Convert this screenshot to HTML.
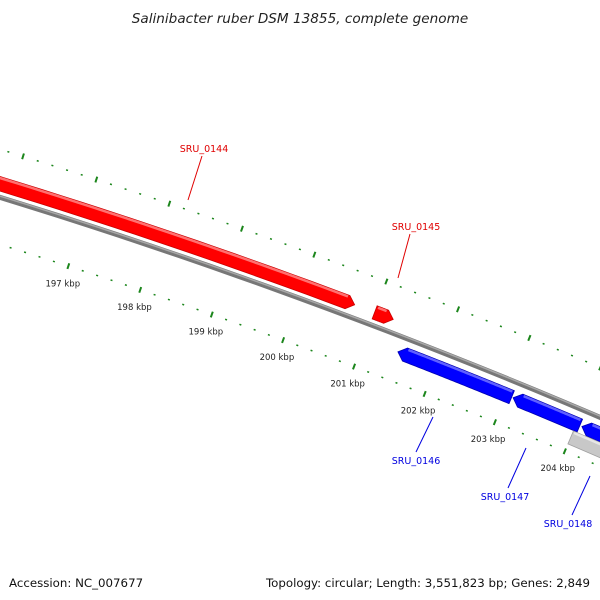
<!DOCTYPE html>
<html><head><meta charset="utf-8"><style>
html,body{margin:0;padding:0;background:#fff;}
svg{display:block;font-family:"DejaVu Sans","Liberation Sans",sans-serif;}
</style></head><body>
<svg id="map" width="600" height="600" viewBox="0 0 600 600" xmlns="http://www.w3.org/2000/svg">
<text x="300" y="23" text-anchor="middle" font-size="13.6" font-style="italic" fill="#222">Salinibacter ruber DSM 13855, complete genome</text>
<g id="ticks"></g>
<g id="feats"></g>
<g id="labels"></g>
<text x="9" y="587" font-size="11.8" fill="#111">Accession: NC_007677</text>
<text x="590" y="587" text-anchor="end" font-size="11.8" fill="#111">Topology: circular; Length: 3,551,823 bp; Genes: 2,849</text>
</svg>
<script>
// data (kbp)
const geneNames = ["SRU_0144","SRU_0145","SRU_0146","SRU_0147","SRU_0148","SRU_0149"];
const geneStarts = [190.0, 201.0, 201.47, 203.1, 204.08, 204.0];
const geneEnds = [200.72, 201.26, 203.08, 204.05, 206.5, 207.0];
const geneStrand = [1, 1, -1, -1, -1, 0];
const tickStartKbp = 195;
const tickEndKbp = 206;
const majorTickLabels = ["197 kbp","198 kbp","199 kbp","200 kbp","201 kbp","202 kbp","203 kbp","204 kbp"];
const majorTickValues = [197,198,199,200,201,202,203,204];

const NS="http://www.w3.org/2000/svg";
const CX=-1778, CY=5975, R=6045, K=0.01262, PHI0=-1.2580;
function ang(kbp){return PHI0+(kbp-197)*K;}
function pt(kbp,r){const a=ang(kbp);return [CX+r*Math.cos(a),CY+r*Math.sin(a)];}
function mk(tag,attrs,parent){const e=document.createElementNS(NS,tag);for(const k in attrs)e.setAttribute(k,attrs[k]);parent.appendChild(e);return e;}
const tg=document.getElementById('ticks'), fg=document.getElementById('feats'), lg=document.getElementById('labels');

function arcPath(a,b,r){let d="";const n=60;for(let i=0;i<=n;i++){const p=pt(a+(b-a)*i/n,r);d+=(i?"L":"M")+p[0].toFixed(2)+","+p[1].toFixed(2);}return d;}
let bb=mk('path',{d:arcPath(185,210,R),stroke:'#777','stroke-width':5,fill:'none'},fg);


let bb2=mk('path',{d:arcPath(185,210,R+1.2),stroke:'#a8a8a8','stroke-width':1.5,fill:'none'},fg);



for(let i=Math.round(tickStartKbp*5);i<=Math.round(tickEndKbp*5);i++){
  const v=i/5, major=(i%5===0);
  [R+46,R-45].forEach(r=>{
    const len=major?6:1.5;
    const p1=pt(v,r-len/2),p2=pt(v,r+len/2);
    const t=mk('line',{x1:p1[0],y1:p1[1],x2:p2[0],y2:p2[1],stroke:'#1c861c','stroke-width':2},tg);
    
    
  });
}
majorTickValues.forEach((v,i)=>{
  const p=pt(v,R-63);
  const t=mk('text',{x:p[0],y:p[1]+3,'text-anchor':'middle','font-size':'8.5',fill:'#222'},tg);
  t.textContent=majorTickLabels[i];
  
  
});

const cols={1:['#ff0000','#ff7070','#c80000'],'-1':['#0000ff','#6060ff','#0000b0'],0:['#c8c8c8','#e6e6e6','#a0a0a0']};
geneNames.forEach((nm,i)=>{
  const s=geneStrand[i];
  const rc = s===1?R+13:(s===-1?R-15.5:R-30);
  const w=14, ar=0.1;
  const a=geneStarts[i], b=geneEnds[i];
  let d="";const n=40;
  let a2=a,b2=b;
  if(s===1)b2=Math.max(a,b-ar);
  if(s===-1)a2=Math.min(b,a+ar);
  for(let j=0;j<=n;j++){const p=pt(a2+(b2-a2)*j/n,rc+w/2);d+=(j?"L":"M")+p[0].toFixed(2)+","+p[1].toFixed(2);}
  if(s===1){const p=pt(b,rc);d+="L"+p[0].toFixed(2)+","+p[1].toFixed(2);}
  for(let j=n;j>=0;j--){const p=pt(a2+(b2-a2)*j/n,rc-w/2);d+="L"+p[0].toFixed(2)+","+p[1].toFixed(2);}
  if(s===-1){const p=pt(a,rc);d+="L"+p[0].toFixed(2)+","+p[1].toFixed(2);}
  d+="Z";
  const c=cols[s];
  const g=mk('path',{d:d,fill:c[0],stroke:c[2],'stroke-width':0.8},fg);
  
  
  const hl=mk('path',{d:arcPath(a2+0.02,b2-0.02,rc+w/2-1.5),stroke:c[1],'stroke-width':2.5,fill:'none'},fg);
  
  
});

const labelDefs=[
 {t:"SRU_0144",col:'#e00000',x1:188,y1:200,x2:202,y2:156,tx:204,ty:152},
 {t:"SRU_0145",col:'#e00000',x1:398,y1:278,x2:410,y2:234,tx:416,ty:230},
 {t:"SRU_0146",col:'#0000e0',x1:433,y1:417,x2:416,y2:452,tx:416,ty:464},
 {t:"SRU_0147",col:'#0000e0',x1:526,y1:448,x2:508,y2:488,tx:505,ty:500},
 {t:"SRU_0148",col:'#0000e0',x1:590,y1:476,x2:572,y2:515,tx:568,ty:527}
];
labelDefs.forEach(L=>{
  const l=mk('line',{x1:L.x1,y1:L.y1,x2:L.x2,y2:L.y2,stroke:L.col,'stroke-width':1},lg);
  
  
  const t=mk('text',{x:L.tx,y:L.ty,'text-anchor':'middle','font-size':'9.5',fill:L.col},lg);
  t.textContent=L.t;
  
  
});
</script>
</body></html>
